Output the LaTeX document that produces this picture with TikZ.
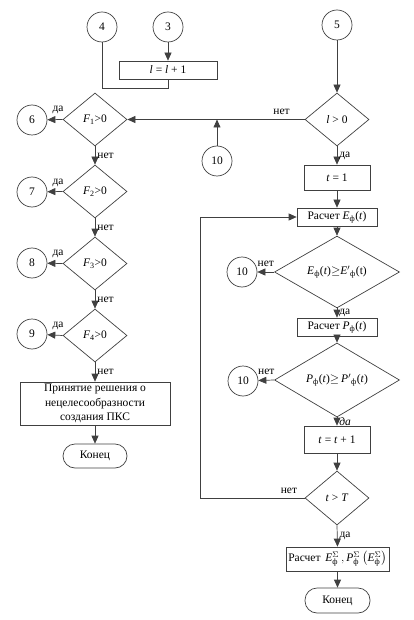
\documentclass[tikz,border=0pt]{standalone}
\usepackage{fontspec}
\usepackage{amsmath}
\setmainfont{Liberation Serif}
\usetikzlibrary{shapes.geometric,arrows.meta}
\begin{document}
\begin{tikzpicture}[x=1pt,y=-1pt,
  font=\fontsize{11.5}{14.5}\selectfont,
  ln/.style={draw=black!75, line width=0.7pt},
  arr/.style={ln, -{Triangle[length=8pt,width=7pt]}},
  circ/.style={circle, draw=black!75, line width=0.7pt, minimum size=30pt, inner sep=0pt},
  box/.style={rectangle, draw=black!75, line width=0.7pt, inner sep=0pt},
  dia/.style={diamond, draw=black!75, line width=0.7pt, inner sep=0pt},
  fdia/.style={dia, minimum width=64pt, minimum height=53pt},
  term/.style={rectangle, rounded corners=12pt, draw=black!75, line width=0.7pt, minimum width=64pt, minimum height=24pt},
  lab/.style={inner sep=1pt}
]
\useasboundingbox (0,0) rectangle (413,620);

% top left
\node[circ] (c4) at (102,27) {4};
\node[circ] (c3) at (168,27) {3};
\node[box, minimum width=98pt, minimum height=18pt] (b1) at (168,70) {\textit{l} = \textit{l} + 1};
\coordinate (j1) at (168,88);

% left column
\node[fdia] (f1) at (95,119.5) {\textit{F}\textsubscript{1}>0};
\node[circ] (c6) at (32,120) {6};
\node[fdia] (f2) at (95,191.5) {\textit{F}\textsubscript{2}>0};
\node[circ] (c7) at (32,192) {7};
\node[fdia] (f3) at (95,263.5) {\textit{F}\textsubscript{3}>0};
\node[circ] (c8) at (32,263) {8};
\node[fdia] (f4) at (95,335.5) {\textit{F}\textsubscript{4}>0};
\node[circ] (c9) at (32,334) {9};
\node[box, minimum width=150pt, minimum height=43pt, align=center] (dec) at (95,403.5)
  {Принятие решения о\\нецелесообразности\\создания ПКС};
\node[term] (end1) at (95,456) {Конец};

% right column
\node[circ] (c5) at (337,25) {5};
\node[fdia] (dl) at (337,119.5) {\textit{l} > 0};
\node[circ] (c10a) at (217,161) {10};
\node[box, minimum width=66pt, minimum height=25pt] (t1) at (337,177.5) {\textit{t} = 1};
\node[box, minimum width=80pt, minimum height=18pt] (rE) at (337,217) {Расчет \textit{E}\textsubscript{ф}(\textit{t})};
\node[dia, minimum width=125pt, minimum height=52pt] (dE) at (337,272)
  {\textit{E}\textsubscript{ф}(\textit{t})$\geq$\textit{E}$'$\textsubscript{ф}(t)};
\node[circ] (c10b) at (242,272) {10};
\node[box, minimum width=80pt, minimum height=18pt] (rP) at (337,327) {Расчет \textit{P}\textsubscript{ф}(\textit{t})};
\node[dia, minimum width=125pt, minimum height=54pt] (dP) at (337,380)
  {\textit{P}\textsubscript{ф}(\textit{t})$\geq$\,\textit{P}$'$\textsubscript{ф}(\textit{t})};
\node[circ] (c10c) at (243,381) {10};
\node[box, minimum width=66pt, minimum height=27pt] (tinc) at (337,439.5) {\textit{t} = \textit{t} + 1};
\node[fdia, minimum height=54pt] (dT) at (337,498) {\textit{t} > \textit{T}};
\coordinate (loopx) at (200,0);
\node[box, minimum width=103pt, minimum height=24pt] (rS) at (337.5,559)
  {Расчет\, $\text{\textit{E}}^{\Sigma}_{\text{ф}}\,,\text{\textit{P}}^{\Sigma}_{\text{ф}}\left(\text{\textit{E}}^{\Sigma}_{\text{ф}}\right)$};
\node[term, minimum width=65pt, minimum height=25pt] (end2) at (337.5,600.5) {Конец};

% connectors top left
\draw[ln] (c4.south) -- (c4.south |- j1) -- (j1) -- (b1.south);
\draw[arr] (c3) -- (b1);

% left column connectors
\draw[arr] (f1.west) -- (c6) node[lab, pos=0.3, above=4pt] {да};
\draw[arr] (f2.west) -- (c7) node[lab, pos=0.3, above=4pt] {да};
\draw[arr] (f3.west) -- (c8) node[lab, pos=0.3, above=4pt] {да};
\draw[arr] (f4.west) -- (c9) node[lab, pos=0.3, above=4pt] {да};
\draw[arr] (f1.south) -- (f2.north) node[lab, midway, right=1pt] {нет};
\draw[arr] (f2.south) -- (f3.north) node[lab, midway, right=1pt] {нет};
\draw[arr] (f3.south) -- (f4.north) node[lab, midway, right=1pt] {нет};
\draw[arr] (f4.south) -- (dec.north) node[lab, midway, right=1pt] {нет};
\draw[arr] (dec) -- (end1);

% right column connectors
\draw[arr] (c5) -- (dl);
\draw[arr] (dl.west) -- (f1.east) node[lab, pos=0.13, above=4pt] {нет};
\draw[arr] (c10a) -- (c10a |- dl.west);
\draw[arr] (dl.south) -- (t1.north) node[lab, midway, right=1pt] {да};
\draw[arr] (t1) -- (rE);
\draw[arr] (rE) -- (dE);
\draw[arr] (dE.west) -- (c10b) node[lab, midway, above=4pt] {нет};
\draw[arr] (dE.south) -- (rP.north) node[lab, midway, right=1pt] {да};
\draw[arr] (rP) -- (dP);
\draw[arr] (dP.west) -- (c10c) node[lab, midway, above=4pt] {нет};
\draw[arr] (dP.south) -- (tinc.north) node[lab, midway, right=1pt] {\textit{да}};
\draw[arr] (tinc) -- (dT);
\draw[arr] (dT.west) -- node[lab, pos=0.15, above=3pt] {нет} (loopx |- dT.west) |- (rE.west);
\draw[arr] (dT.south) -- (rS.north) node[lab, midway, right=1pt] {да};
\draw[arr] (rS) -- (end2);
\end{tikzpicture}
\end{document}
